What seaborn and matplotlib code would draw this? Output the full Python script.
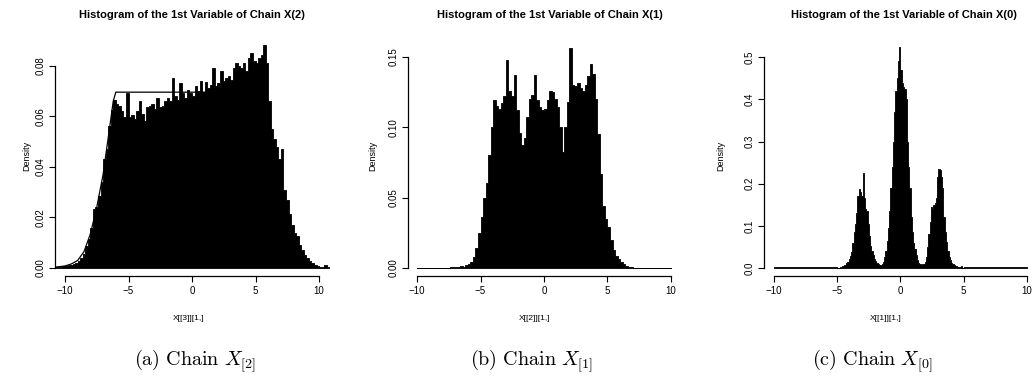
import numpy as np
import pandas as pd
import matplotlib
matplotlib.use("Agg")
import matplotlib.pyplot as plt
import seaborn as sns

# ---------------- data ----------------
# Panel (a): chain X[2], bins of width 0.2 starting at -10.8
a_start, a_width = -10.8, 0.2
a_density = [
    0.0003, 0.0004, 0.0005, 0.0006, 0.0008, 0.0010, 0.0012, 0.0015, 0.0019, 0.0026,
    0.0040, 0.0055, 0.0085, 0.0115, 0.0160, 0.0235, 0.0240, 0.0285, 0.0340, 0.0430,
    0.0470, 0.0560, 0.0625, 0.0665, 0.0650, 0.0640, 0.0620, 0.0595, 0.0690, 0.0598,
    0.0605, 0.0590, 0.0620, 0.0660, 0.0610, 0.0580, 0.0635, 0.0640, 0.0650, 0.0630,
    0.0670, 0.0635, 0.0640, 0.0660, 0.0670, 0.0660, 0.0750, 0.0680, 0.0665, 0.0730,
    0.0690, 0.0670, 0.0705, 0.0690, 0.0680, 0.0720, 0.0700, 0.0740, 0.0695, 0.0735,
    0.0710, 0.0725, 0.0790, 0.0720, 0.0730, 0.0780, 0.0740, 0.0750, 0.0760, 0.0745,
    0.0790, 0.0810, 0.0800, 0.0790, 0.0810, 0.0780, 0.0830, 0.0850, 0.0820, 0.0810,
    0.0830, 0.0840, 0.0880, 0.0810, 0.0660, 0.0550, 0.0510, 0.0480, 0.0430, 0.0470,
    0.0310, 0.0270, 0.0215, 0.0170, 0.0140, 0.0125, 0.0090, 0.0070, 0.0052, 0.0040,
    0.0028, 0.0019, 0.0012, 0.0008, 0.0005, 0.0004, 0.0010, 0.0003]
# target density curve drawn over panel (a)
a_line_x = [-11.0, -10.0, -9.5, -9.0, -8.5, -8.0, -7.5, -7.0, -6.5, -6.2, -6.0, 6.0]
a_line_y = [0.0002, 0.0008, 0.0016, 0.0030, 0.0065, 0.0135, 0.0240, 0.0370, 0.0550,
            0.0660, 0.0695, 0.0695]

# Panel (b): chain X[1], bins of width 0.2 starting at -10
b_start, b_width = -10.0, 0.2
b_density = [
    0.0001, 0.0001, 0.0002, 0.0001, 0.0002, 0.0002, 0.0001, 0.0002, 0.0002, 0.0003,
    0.0002, 0.0003, 0.0003, 0.0004, 0.0005, 0.0010, 0.0008, 0.0012, 0.0010, 0.0018,
    0.0025, 0.0045, 0.0080, 0.0140, 0.0250, 0.0360, 0.0500, 0.0600, 0.0800, 0.1000,
    0.1190, 0.1150, 0.1130, 0.1170, 0.1220, 0.1480, 0.1260, 0.1220, 0.1370, 0.1120,
    0.0960, 0.0870, 0.0920, 0.1070, 0.1200, 0.1230, 0.1370, 0.1190, 0.1140, 0.1120,
    0.1130, 0.1190, 0.1260, 0.1250, 0.1200, 0.1140, 0.1000, 0.0820, 0.1000, 0.1180,
    0.1560, 0.1300, 0.1290, 0.1310, 0.1280, 0.1260, 0.1300, 0.1360, 0.1450, 0.1380,
    0.1200, 0.0950, 0.0670, 0.0440, 0.0350, 0.0290, 0.0200, 0.0130, 0.0085, 0.0065,
    0.0045, 0.0030, 0.0015, 0.0006, 0.0004, 0.0003, 0.0003, 0.0002, 0.0003, 0.0002,
    0.0002, 0.0003, 0.0002, 0.0002, 0.0001, 0.0002, 0.0002, 0.0001, 0.0002, 0.0001]

# Panel (c): chain X[0]; core bins of width 0.1 on [-5, 5], tails of width 0.5
c_tail_left = [0.0015, 0.0015, 0.0015, 0.0015, 0.0015, 0.0015, 0.0015, 0.0015, 0.0015, 0.0015]
c_core = [
    0.001, 0.001, 0.002, 0.003, 0.004, 0.006, 0.008, 0.011, 0.015, 0.022,
    0.028, 0.038, 0.060, 0.085, 0.105, 0.130, 0.170, 0.188, 0.180, 0.172,
    0.226, 0.165, 0.140, 0.135, 0.105, 0.075, 0.052, 0.040, 0.030, 0.022,
    0.016, 0.012, 0.010, 0.008, 0.007, 0.009, 0.015, 0.025, 0.040, 0.065,
    0.095, 0.135, 0.190, 0.240, 0.300, 0.370, 0.420, 0.450, 0.490, 0.525,
    0.470, 0.440, 0.430, 0.425, 0.400, 0.300, 0.240, 0.190, 0.120, 0.085,
    0.060, 0.045, 0.030, 0.018, 0.012, 0.009, 0.008, 0.009, 0.010, 0.015,
    0.027, 0.050, 0.080, 0.110, 0.145, 0.140, 0.150, 0.155, 0.165, 0.215,
    0.235, 0.232, 0.215, 0.190, 0.120, 0.085, 0.062, 0.040, 0.025, 0.018,
    0.013, 0.010, 0.007, 0.005, 0.004, 0.003, 0.003, 0.002, 0.004, 0.001]
c_tail_right = [0.0015, 0.0015, 0.0015, 0.0015, 0.0015, 0.0015, 0.0015, 0.0015, 0.0015, 0.0015]

titles = ["Histogram of the 1st Variable of Chain X(2)",
          "Histogram of the 1st Variable of Chain X(1)",
          "Histogram of the 1st Variable of Chain X(0)"]
xlabels = ["X[[3]][1,]", "X[[2]][1,]", "X[[1]][1,]"]
captions = [r"$\mathrm{(a)\ Chain}\ X_{[2]}$",
            r"$\mathrm{(b)\ Chain}\ X_{[1]}$",
            r"$\mathrm{(c)\ Chain}\ X_{[0]}$"]
x_ticks = [-10, -5, 0, 5, 10]
y_ticks = [[0.00, 0.02, 0.04, 0.06, 0.08],
           [0.00, 0.05, 0.10, 0.15],
           [0.0, 0.1, 0.2, 0.3, 0.4, 0.5]]
y_ticklabels = [["0.00", "0.02", "0.04", "0.06", "0.08"],
                ["0.00", "0.05", "0.10", "0.15"],
                ["0.0", "0.1", "0.2", "0.3", "0.4", "0.5"]]

# ---------------- bins ----------------
a_edges = a_start + a_width * np.arange(len(a_density) + 1)
b_edges = b_start + b_width * np.arange(len(b_density) + 1)
c_edges = np.concatenate([np.linspace(-10, -5, len(c_tail_left) + 1)[:-1],
                          np.linspace(-5, 5, len(c_core) + 1)[:-1],
                          np.linspace(5, 10, len(c_tail_right) + 1)])
c_density = c_tail_left + c_core + c_tail_right

hists = [(a_edges, a_density), (b_edges, b_density), (c_edges, c_density)]

# ---------------- style / layout ----------------
sns.set_style("ticks")
plt.rcParams["font.family"] = ["Liberation Sans", "DejaVu Sans"]
plt.rcParams["mathtext.fontset"] = "cm"
for key in ["text.color", "axes.labelcolor", "xtick.color", "ytick.color",
            "axes.edgecolor"]:
    plt.rcParams[key] = "black"

W, H = 1032, 385
fig = plt.figure(figsize=(W / 100, H / 100), dpi=100)

# axes rectangles in pixels (left, right, bottom, top) and limits
layout = [
    dict(px=(55, 332, 276, 36), xlim=(-10.787, 11.02), ylim=(-0.00316, 0.0917)),
    dict(px=(408, 676, 276, 36), xlim=(-10.709, 10.394), ylim=(-0.00568, 0.1647)),
    dict(px=(764, 1030, 276, 36), xlim=(-10.79, 10.24), ylim=(-0.019, 0.5505)),
]
title_x = [192, 550, 904]
xlabel_x = [189, 535, 886]
caption_x = [195, 532, 872]
ylabel_px = [31, 377, 725]

for i, (lay, (edges, dens)) in enumerate(zip(layout, hists)):
    l, r, b, t = lay["px"]
    ax = fig.add_axes([l / W, 1 - b / H, (r - l) / W, (b - t) / H])
    centers = (edges[:-1] + edges[1:]) / 2
    df = pd.DataFrame({"x": centers, "density": dens})
    sns.histplot(data=df, x="x", weights="density", bins=[float(e) for e in edges],
                 stat="count", element="step", fill=True, color="black",
                 edgecolor="black", linewidth=0.6, alpha=1.0, ax=ax)
    if i == 0:
        sns.lineplot(x=a_line_x, y=a_line_y, color="black", linewidth=0.9, ax=ax,
                     sort=False, estimator=None)
    ax.set_xlim(*lay["xlim"])
    ax.set_ylim(*lay["ylim"])
    for s in ["top", "right"]:
        ax.spines[s].set_visible(False)
    for s in ["left", "bottom"]:
        ax.spines[s].set_linewidth(0.9)
        ax.spines[s].set_color("black")
    ax.spines["bottom"].set_bounds(-10, 10)
    ax.spines["left"].set_bounds(y_ticks[i][0], y_ticks[i][-1])
    ax.set_xticks(x_ticks)
    ax.set_xticklabels([str(v).replace("-", "\u2212") for v in x_ticks])
    ax.set_yticks(y_ticks[i])
    ax.set_yticklabels(y_ticklabels[i], va="center")
    ax.tick_params(axis="both", direction="out", length=4, width=0.8,
                   labelsize=7, pad=3, colors="black")
    ax.tick_params(axis="y", labelrotation=90)
    ax.set_xlabel("")
    ax.set_ylabel("Density", fontsize=6.5, color="black")
    ax.yaxis.set_label_coords((ylabel_px[i] - l) / (r - l), 0.5)
    fig.text(title_x[i] / W, 1 - 15 / H, titles[i], ha="center", va="center",
             fontsize=8, fontweight="bold", color="black")
    fig.text(xlabel_x[i] / W, 1 - 318 / H, xlabels[i], ha="center", va="center",
             fontsize=6, color="black")
    fig.text(caption_x[i] / W, 1 - 361 / H, captions[i], ha="center", va="center",
             fontsize=14.5, color="black")

fig.savefig("out.png", dpi=100)
